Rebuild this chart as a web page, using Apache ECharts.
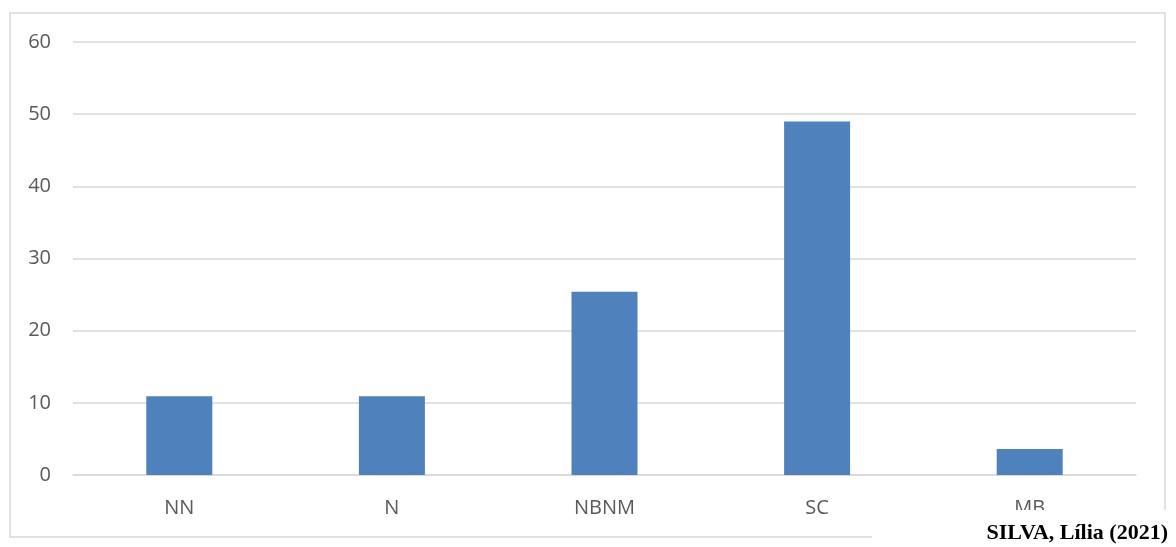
<!DOCTYPE html>
<html>
<head>
<meta charset="utf-8">
<script src="https://cdn.jsdelivr.net/npm/echarts@6/dist/echarts.min.js"></script>
<style>
  html, body { margin: 0; padding: 0; background: #fff; }
  #chart { width: 1176px; height: 547px; }
</style>
</head>
<body>
<div id="chart"></div>
<script>
const categories = ['NN', 'N', 'NBNM', 'SC', 'MB'];
const values = [10.9, 10.9, 25.4, 49, 3.6];
const yTicks = [0, 10, 20, 30, 40, 50, 60];
const sourceNote = 'SILVA, Lília (2021)';

const chart = echarts.init(document.getElementById('chart'), null, { renderer: 'canvas' });

chart.setOption({
  animation: false,
  backgroundColor: '#ffffff',
  grid: { left: 73, right: 40, top: 42, bottom: 72, containLabel: false },
  xAxis: {
    type: 'category',
    data: categories,
    axisLine: { show: true, lineStyle: { color: '#d9d9d9', width: 1.5 } },
    axisTick: { show: false },
    axisLabel: {
      color: '#595959',
      fontFamily: 'Open Sans, Liberation Sans, sans-serif',
      fontSize: 20,
      margin: 23
    }
  },
  yAxis: {
    type: 'value',
    min: yTicks[0],
    max: yTicks[yTicks.length - 1],
    interval: yTicks[1] - yTicks[0],
    axisLine: { show: false },
    axisTick: { show: false },
    splitLine: { lineStyle: { color: '#d9d9d9', width: 1.5 } },
    axisLabel: {
      color: '#595959',
      fontFamily: 'Open Sans, Liberation Sans, sans-serif',
      fontSize: 20,
      margin: 22
    }
  },
  series: [{
    type: 'bar',
    data: values,
    barWidth: 66,
    itemStyle: { color: '#4f81bd' }
  }],
  graphic: [
    {
      type: 'rect',
      z: 100,
      shape: { x: 10, y: 13, width: 1155, height: 524 },
      style: { fill: 'none', stroke: '#d9d9d9', lineWidth: 1.5 }
    },
    {
      type: 'rect',
      z: 101,
      shape: { x: 872, y: 510, width: 304, height: 37 },
      style: { fill: '#ffffff' }
    },
    {
      type: 'text',
      z: 102,
      right: 8,
      top: 522,
      style: {
        text: sourceNote,
        fill: '#000000',
        font: 'bold 22px "Liberation Serif", "DejaVu Serif", serif'
      }
    }
  ]
});
</script>
</body>
</html>
